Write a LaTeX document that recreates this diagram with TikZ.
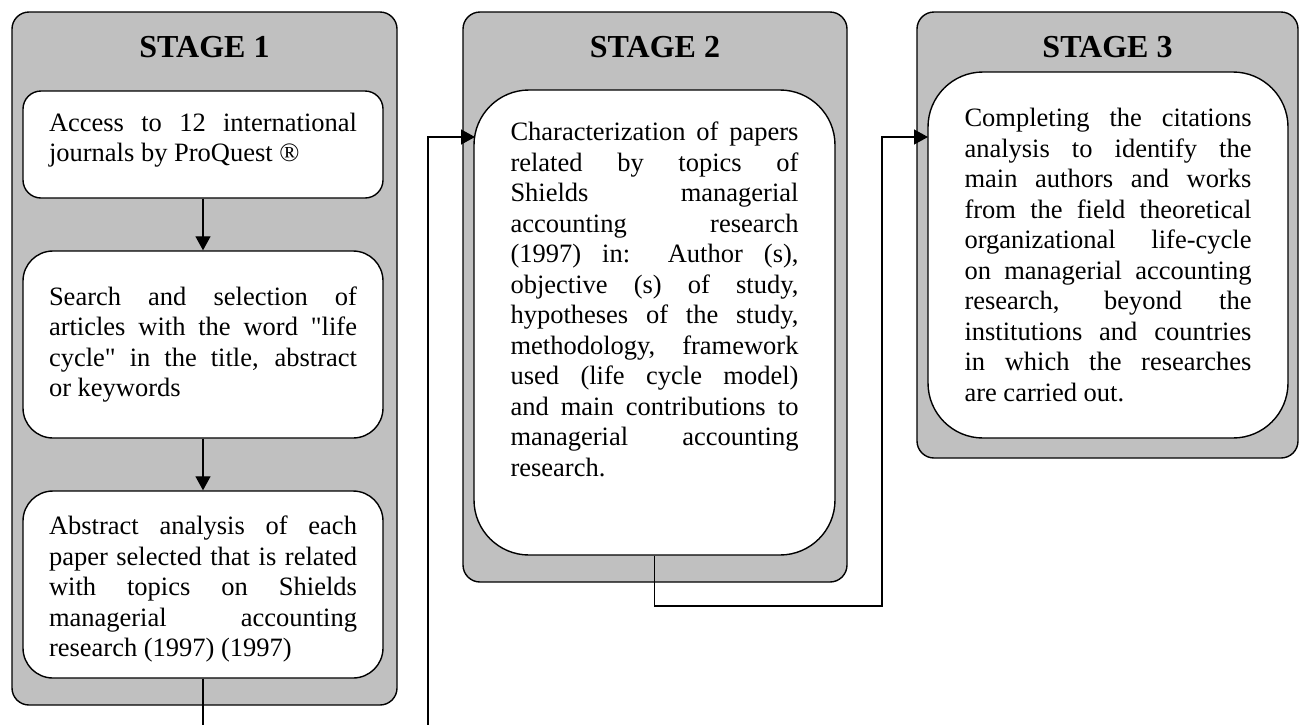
\documentclass[tikz,border=0pt]{standalone}
\usepackage{fontspec}
\setmainfont{Liberation Serif}
\usetikzlibrary{arrows.meta}
\definecolor{panelgray}{RGB}{192,192,192}
\hyphenpenalty=10000
\exhyphenpenalty=10000
\tolerance=10000
\hbadness=10000
\begin{document}
\begin{tikzpicture}[x=1pt,y=-1pt,
  panel/.style={draw,line width=1.4pt,fill=panelgray,rounded corners=17pt},
  stagebox/.style={draw,line width=1.4pt,fill=white,inner sep=0pt,align=justify,font=\fontsize{26.5}{30.5}\selectfont},
  stagetitle/.style={font=\fontsize{32}{36}\selectfont\bfseries},
  conn/.style={line width=1.3pt,-{Triangle[length=14pt,width=15pt]}}]
\useasboundingbox (0,0) rectangle (1306,724);
\node[panel,minimum width=385pt,minimum height=693pt] (p1) at (204.5,358.5) {};
\node[panel,minimum width=384pt,minimum height=570pt] (p2) at (655,297) {};
\node[panel,minimum width=381pt,minimum height=446pt] (p3) at (1107.5,235) {};
\node[stagetitle] (t1) at (204.5,47) {STAGE 1};
\node[stagetitle] (t2) at (655,47) {STAGE 2};
\node[stagetitle] (t3) at (1107.5,47) {STAGE 3};
\node[stagebox,rounded corners=18pt,minimum width=360pt,minimum height=107pt,text width=308pt,text depth=45pt] (s1a) at (203,144.5)
  {Access to 12 international\linebreak journals by ProQuest ®};
\node[stagebox,rounded corners=30pt,minimum width=360pt,minimum height=187pt,text width=308pt] (s1b) at (203,344.5)
  {Search and selection of\linebreak articles with the word \textquotedbl life\linebreak cycle\textquotedbl{} in the title, abstract\linebreak or keywords};
\node[stagebox,rounded corners=30pt,minimum width=360pt,minimum height=187pt,text width=308pt,text height=28pt] (s1c) at (203,584.5)
  {Abstract analysis of each\linebreak paper selected that is related\linebreak with topics on Shields\linebreak managerial accounting\linebreak research (1997) (1997)};
\node[stagebox,rounded corners=55pt,minimum width=361pt,minimum height=465pt,text width=288pt,text depth=382pt] (s2) at (654.5,322.5)
  {Characterization of papers\linebreak related by topics of\linebreak Shields managerial\linebreak accounting research\linebreak (1997) in: Author (s),\linebreak objective (s) of study,\linebreak hypotheses of the study,\linebreak methodology, framework\linebreak used (life cycle model)\linebreak and main contributions to\linebreak managerial accounting\linebreak research.};
\node[stagebox,rounded corners=55pt,minimum width=360pt,minimum height=366pt,text width=287pt] (s3) at (1108,255)
  {Completing the citations\linebreak analysis to identify the\linebreak main authors and works\linebreak from the field theoretical\linebreak organizational life-cycle\linebreak on managerial accounting\linebreak research, beyond the\linebreak institutions and countries\linebreak in which the researches\linebreak are carried out.};
\coordinate (low1) at (428,740);
\coordinate (in2) at (475,137);
\coordinate (low2) at (882,606);
\coordinate (in3) at (928,137);
\draw[conn] (s1a) -- (s1b);
\draw[conn] (s1b) -- (s1c);
\draw[conn] (s1c.south) |- (low1) -- (low1 |- in2) -- (in2);
\draw[conn] (s2.south) |- (low2) -- (low2 |- in3) -- (in3);
\end{tikzpicture}
\end{document}
